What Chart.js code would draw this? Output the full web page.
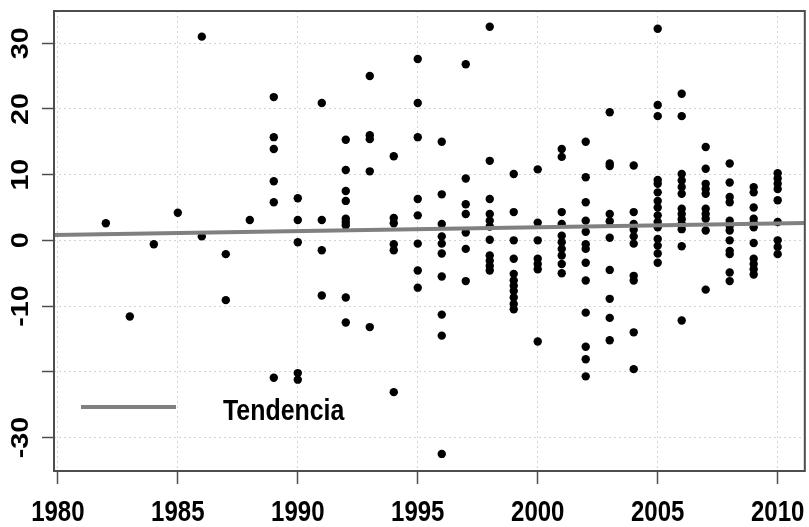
<!DOCTYPE html>
<html>
<head>
<meta charset="utf-8">
<script src="https://cdn.jsdelivr.net/npm/chart.js@4/dist/chart.umd.min.js"></script>
<style>
  body { margin: 0; background: #fff; }
</style>
</head>
<body>
<canvas id="chart" width="809" height="527"></canvas>
<script>
// Years and the values observed in each year
const years = [1982, 1983, 1984, 1985, 1986, 1987, 1988, 1989, 1990, 1991, 1992, 1993, 1994, 1995, 1996,
    1997, 1998, 1999, 2000, 2001, 2002, 2003, 2004, 2005, 2006, 2007, 2008, 2009, 2010];
const values = [
    [2.6],
    [-11.6],
    [-0.6],
    [4.2],
    [31.0, 0.6],
    [-2.1, -9.1],
    [3.1],
    [21.8, 15.7, 13.9, 9.0, 5.8, -20.9],
    [6.4, 3.1, -0.3, -20.2, -21.2],
    [20.9, 3.1, -1.5, -8.4],
    [15.3, 10.7, 7.5, 6.0, 3.3, 2.8, 2.3, -8.7, -12.5],
    [25.0, 16.0, 15.4, 10.5, -13.2],
    [12.8, 3.4, 2.6, -0.6, -1.5, -23.1],
    [27.6, 20.9, 15.7, 6.3, 3.8, -0.5, -4.6, -7.2],
    [15.0, 7.0, 2.5, 0.6, -0.5, -2.0, -5.5, -11.3, -14.5, -32.5],
    [26.8, 9.4, 5.5, 4.0, 1.2, -1.3, -6.2],
    [32.5, 12.1, 6.3, 4.0, 3.0, 2.1, 0.1, -2.3, -3.1, -3.9, -4.6],
    [10.1, 4.3, 0.0, -2.8, -5.1, -6.1, -6.9, -7.7, -8.7, -9.7, -10.5],
    [10.8, 2.7, 0.0, -2.8, -3.6, -4.4, -15.4],
    [13.9, 12.7, 4.3, 2.5, 0.7, -0.3, -1.3, -2.3, -3.6, -5.0],
    [15.0, 9.6, 5.8, 3.0, 1.3, -0.6, -1.3, -3.4, -6.1, -11.0, -16.2, -18.1, -20.7],
    [19.5, 11.7, 11.3, 4.0, 2.9, 0.4, -4.5, -8.9, -11.8, -15.2],
    [11.4, 4.3, 2.5, 1.6, 0.6, -0.5, -5.4, -6.1, -14.0, -19.6],
    [32.2, 20.6, 18.9, 9.2, 8.6, 7.3, 6.0, 5.0, 3.8, 2.8, 2.0, 0.2, -0.8, -2.0, -3.4],
    [22.3, 18.9, 10.1, 9.1, 8.1, 7.1, 4.8, 4.0, 3.2, 2.5, 1.7, -0.9, -12.2],
    [14.2, 10.9, 8.6, 7.8, 7.1, 4.8, 4.0, 3.3, 1.5, -7.5],
    [11.7, 8.8, 6.6, 5.8, 3.0, 2.2, 1.5, 0.0, -1.6, -2.1, -4.9, -6.2],
    [8.1, 7.3, 5.0, 3.3, 2.7, 2.0, -0.4, -2.8, -3.6, -4.4, -5.2],
    [10.2, 9.4, 8.6, 7.8, 6.1, 2.8, 0.0, -1.0, -2.1]
];

// Trend line, read at both ends of the x axis
const trendYears = [1979.84, 2011.13];
const trendValues = [0.8, 2.65];

// Axis ticks
const xTicks = [1980, 1985, 1990, 1995, 2000, 2005, 2010];
const xTickLabels = ['1980', '1985', '1990', '1995', '2000', '2005', '2010'];
const yTicks = [-30, -20, -10, 0, 10, 20, 30];
const yTickLabels = ['-30', '', '-10', '0', '10', '20', '30'];
const legendLabel = 'Tendencia';

const points = [];
years.forEach((yr, i) => values[i].forEach(v => points.push({ x: yr, y: v })));

const trend = trendYears.map((yr, i) => ({ x: yr, y: trendValues[i] }));

const boldFont = '"Liberation Sans", Arial, sans-serif';

// the picture is stretched vertically, so texts are drawn squeezed sideways
function squeezedText(ctx, text, x, y, angle, sx) {
    ctx.save();
    ctx.translate(x, y);
    ctx.rotate(angle);
    ctx.scale(sx, 1);
    ctx.fillText(text, 0, 0);
    ctx.restore();
}

// Tick labels, frame box and legend
const extras = {
    id: 'extras',
    afterDraw(chart) {
        const { ctx, chartArea: a, scales: { x, y } } = chart;
        ctx.save();

        ctx.strokeStyle = '#4d4d4d';
        ctx.lineWidth = 2;
        ctx.strokeRect(a.left, a.top, a.right - a.left, a.bottom - a.top);

        ctx.fillStyle = '#000';
        ctx.textBaseline = 'alphabetic';
        ctx.textAlign = 'center';

        ctx.font = 'bold 23px ' + boldFont;
        y.ticks.forEach((t, i) => {
            if (yTickLabels[i]) squeezedText(ctx, yTickLabels[i], 28, y.getPixelForValue(t.value), -Math.PI / 2, 1.25);
        });

        ctx.font = 'bold 30px ' + boldFont;
        x.ticks.forEach((t, i) => {
            squeezedText(ctx, xTickLabels[i], x.getPixelForValue(t.value), 521, 0, 0.8);
        });

        ctx.strokeStyle = '#808080';
        ctx.lineWidth = 4;
        ctx.beginPath();
        ctx.moveTo(81, 407);
        ctx.lineTo(176, 407);
        ctx.stroke();

        ctx.textAlign = 'left';
        squeezedText(ctx, legendLabel, 223, 420, 0, 0.83);

        ctx.restore();
    }
};

new Chart(document.getElementById('chart'), {
    type: 'scatter',
    data: {
        datasets: [{
            type: 'line',
            data: trend,
            borderColor: '#808080',
            borderWidth: 4,
            pointRadius: 0,
            order: 0
        }, {
            data: points,
            backgroundColor: '#000',
            borderWidth: 0,
            pointRadius: 4.2,
            order: 1
        }]
    },
    options: {
        responsive: false,
        animation: false,
        events: [],
        layout: { padding: { top: 11, right: 1 } },
        plugins: {
            legend: { display: false },
            tooltip: { enabled: false }
        },
        scales: {
            x: {
                type: 'linear',
                min: 1979.84,
                max: 2011.13,
                afterBuildTicks: s => { s.ticks = xTicks.map(v => ({ value: v })); },
                afterFit: s => { s.height = 56; },
                ticks: { callback: () => '', maxRotation: 0 },
                grid: {
                    color: '#d3d3d3',
                    tickColor: '#4d4d4d',
                    tickWidth: 1.5,
                    tickLength: 13
                },
                border: { display: false, dash: [2, 3] }
            },
            y: {
                min: -35.1,
                max: 34.9,
                afterBuildTicks: s => { s.ticks = yTicks.map(v => ({ value: v })); },
                afterFit: s => { s.width = 54; },
                ticks: { callback: () => '' },
                grid: {
                    color: '#d3d3d3',
                    tickColor: '#4d4d4d',
                    tickWidth: 1.5,
                    tickLength: 12
                },
                border: { display: false, dash: [2, 3] }
            }
        }
    },
    plugins: [extras]
});
</script>
</body>
</html>
